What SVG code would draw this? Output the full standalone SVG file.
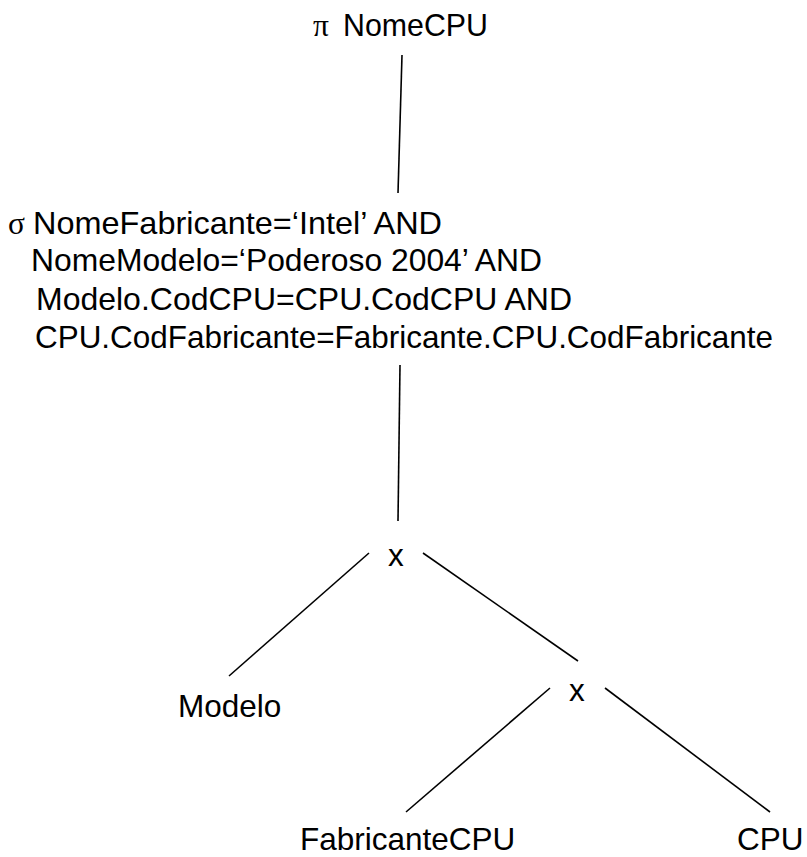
<svg xmlns="http://www.w3.org/2000/svg" width="807" height="857" viewBox="0 0 807 857">
<style>
text{font-family:"Liberation Sans",Arial,sans-serif;font-size:31.5px;fill:#000}
.g{font-family:"Liberation Serif","Times New Roman",serif}
line{stroke:#000;stroke-width:1.6}
</style>
<rect width="807" height="857" fill="#fff"/>
<g id="connectors">
<line x1="402" y1="55" x2="398" y2="193"/>
<line x1="400" y1="365" x2="398" y2="521"/>
<line x1="369" y1="553" x2="229" y2="676"/>
<line x1="423" y1="553" x2="578" y2="661"/>
<line x1="550" y1="688" x2="406" y2="812"/>
<line x1="605" y1="688" x2="770" y2="812"/>
</g>
<g id="projection">
<text class="g" x="313" y="36">π</text>
<text x="343" y="36" textLength="145" lengthAdjust="spacingAndGlyphs">NomeCPU</text>
</g>
<g id="selection">
<text class="g" x="8" y="234">σ</text>
<text x="33" y="234" textLength="409" lengthAdjust="spacingAndGlyphs">NomeFabricante=‘Intel’ AND</text>
<text x="31" y="271" textLength="511" lengthAdjust="spacingAndGlyphs">NomeModelo=‘Poderoso 2004’ AND</text>
<text x="36" y="310" textLength="536" lengthAdjust="spacingAndGlyphs">Modelo.CodCPU=CPU.CodCPU AND</text>
<text x="35" y="348" textLength="738" lengthAdjust="spacingAndGlyphs">CPU.CodFabricante=Fabricante.CPU.CodFabricante</text>
</g>
<g id="product1"><text x="388" y="566">x</text></g>
<g id="modelo"><text x="178" y="717">Modelo</text></g>
<g id="product2"><text x="569" y="701">x</text></g>
<g id="fabricantecpu"><text x="300" y="850">FabricanteCPU</text></g>
<g id="cpu"><text x="737" y="850">CPU</text></g>
</svg>
